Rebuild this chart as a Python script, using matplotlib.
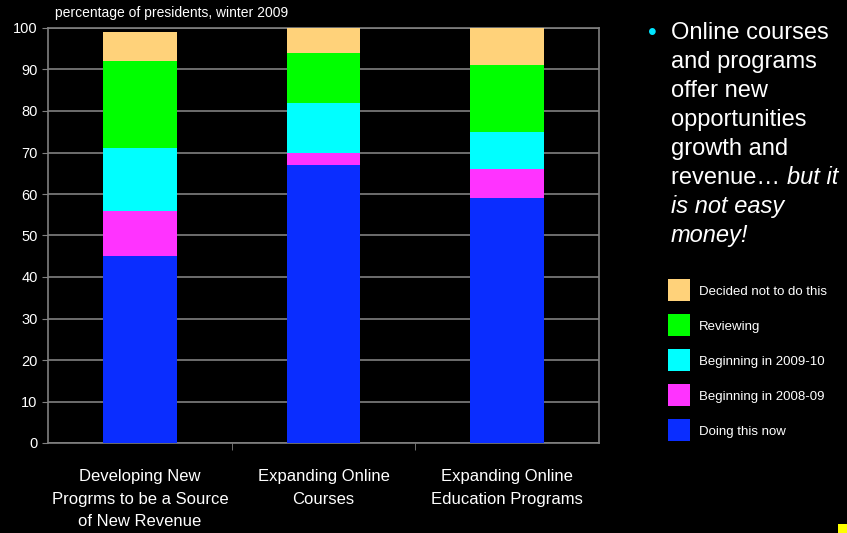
import matplotlib.pyplot as plt
import matplotlib.patches as mpatches
import numpy as np

categories = ["Developing New\nProgrms to be a Source\nof New Revenue",
              "Expanding Online\nCourses",
              "Expanding Online\nEducation Programs"]
series = ["Doing this now", "Beginning in 2008-09", "Beginning in 2009-10",
          "Reviewing", "Decided not to do this"]
doing_now = [45, 67, 59]
begin_0809 = [11, 3, 7]
begin_0910 = [15, 12, 9]
reviewing = [21, 12, 16]
decided_not = [7, 6, 9]
colors = ["#0a2dff", "#ff33ff", "#00ffff", "#00ff00", "#ffd27a"]

plt.rcParams["font.family"] = ["Liberation Sans", "DejaVu Sans"]

fig = plt.figure(figsize=(8.47, 5.33), dpi=100, facecolor="black")
ax = fig.add_axes([48 / 847, 1 - 443 / 533, 551 / 847, 415 / 533])
ax.set_facecolor("black")

x = np.arange(len(categories))
bottom = np.zeros(len(categories))
for vals, col in zip([doing_now, begin_0809, begin_0910, reviewing, decided_not], colors):
    ax.bar(x, vals, 0.4, bottom=bottom, color=col, zorder=3)
    bottom += np.array(vals)

ax.set_xlim(-0.5, 2.5)
ax.set_ylim(0, 100)
ax.set_yticks(range(0, 101, 10))
ax.yaxis.grid(True, color="#808080", linewidth=1.2, zorder=0)
ax.set_xticks(x)
ax.set_xticklabels(categories, color="white", fontsize=12, linespacing=1.6)
ax.tick_params(axis="x", length=0, pad=19)
ax.set_xticks([0.5, 1.5], minor=True)
ax.tick_params(axis="x", which="minor", length=5, color="#808080", direction="out")
ax.tick_params(axis="y", colors="white", labelsize=10.5, length=4, color="#808080")
for s in ax.spines.values():
    s.set_color("#808080")
    s.set_linewidth(1.2)

fig.text(55 / 847, 1 - 13 / 533, "percentage of presidents, winter 2009", color="white",
         fontsize=10, va="center")

# bullet text on the right
fig.text(648 / 847, 1 - 33 / 533, "\u2022", color="#00e5ff", fontsize=18, va="center")
lines = ["Online courses", "and programs", "offer new", "opportunities",
         "growth and", "revenue\u2026 ", "is not easy", "money!"]
for i, ln in enumerate(lines):
    y = 1 - (33 + i * 28.9) / 533
    style = "italic" if i >= 6 else "normal"
    t = fig.text(671 / 847, y, ln, color="white", fontsize=17, va="center", style=style)
    if i == 5:
        fig.canvas.draw()
        bb = t.get_window_extent()
        fig.text(bb.x1 / 847, y, "but it", color="white", fontsize=17, va="center", style="italic")

# legend
for i, (name, col) in enumerate(zip(series[::-1], colors[::-1])):
    yc = 290 + i * 35
    fig.patches.append(mpatches.Rectangle((668 / 847, 1 - (yc + 11) / 533), 22 / 847, 22 / 533,
                                          transform=fig.transFigure, facecolor=col, edgecolor="none"))
    fig.text(699 / 847, 1 - (yc + 2) / 533, name, color="white", fontsize=9.5, va="center")

fig.patches.append(mpatches.Rectangle((838 / 847, 0), 9 / 847, 9 / 533,
                                      transform=fig.transFigure, facecolor="#ffff00", edgecolor="none"))

fig.savefig("out.png", dpi=100, facecolor="black")
